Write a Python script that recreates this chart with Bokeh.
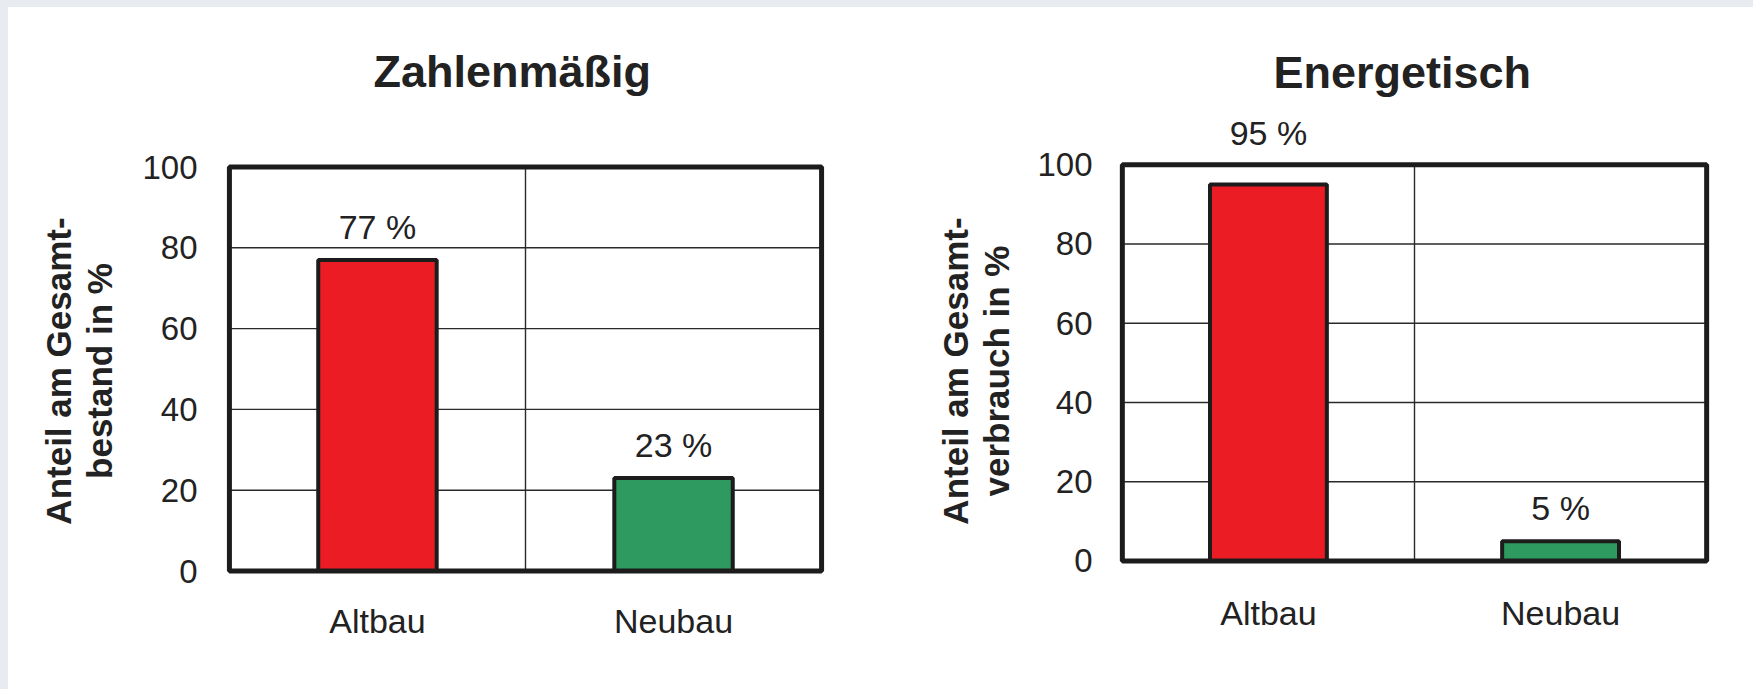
from bokeh.plotting import figure
from bokeh.models import ColumnDataSource, Range1d, FixedTicker, LabelSet, Div
from bokeh.core.properties import value
from bokeh.layouts import row, column
from bokeh.embed import file_html
from bokeh.resources import INLINE

# Data
categories = ["Altbau", "Neubau"]
anteil_bestand = [77, 23]      # share of building stock, %
anteil_verbrauch = [95, 5]     # share of energy consumption, %
y_ticks = [0, 20, 40, 60, 80, 100]
titles = ["Zahlenmäßig", "Energetisch"]
y_labels = ["Anteil am Gesamt-\nbestand in %", "Anteil am Gesamt-\nverbrauch in %"]
bar_colors = ["#ec1c24", "#2e9a5f"]

FONT = "Liberation Sans"
INK = "#1c1c1c"
TEXT = "#222222"
PAGE_BG = "#e8ebef"
X_PAD = 0.02          # room left/right of the framed box for its thick border
BORDER_TOP = 109      # both figures share these so their frames line up
BORDER_BOTTOM = 64


def panel(title, ylabel, values, width, height, side_borders, y_pad, title_offset,
          title_standoff, tick_standoff, xlabel_standoff, ylabel_standoff):
    left, right = side_borders
    pad_low, pad_high = y_pad
    n = len(categories)
    y_max = y_ticks[-1]
    xs = [i + 0.5 for i in range(n)]
    p = figure(width=width, height=height,
               x_range=Range1d(-X_PAD, n + X_PAD),
               y_range=Range1d(-pad_low, y_max + pad_high),
               output_backend="svg", toolbar_location=None, tools="",
               min_border_left=left, min_border_right=right,
               min_border_top=BORDER_TOP, min_border_bottom=BORDER_BOTTOM)
    p.background_fill_color = "white"
    p.border_fill_color = "white"
    p.outline_line_color = None
    p.grid.visible = False

    # heading
    p.title.text = title
    p.title.align = "left"
    p.title.text_font = FONT
    p.title.text_font_size = "45px"
    p.title.text_font_style = "bold"
    p.title.text_color = TEXT
    p.title.offset = title_offset
    p.title.standoff = title_standoff

    # inner grid: horizontal lines at the inner ticks, vertical line between categories
    inner = y_ticks[1:-1]
    p.segment(x0=[0] * len(inner), x1=[n] * len(inner), y0=inner, y1=inner,
              line_color="#2a2a2a", line_width=1.4)
    seps = list(range(1, n))
    p.segment(x0=seps, x1=seps, y0=[0] * len(seps), y1=[y_max] * len(seps),
              line_color="#2a2a2a", line_width=1.4)

    # bars
    src = ColumnDataSource(dict(
        x=xs, value=values, color=bar_colors,
        label=[f"{v} %" for v in values],
        # labels of bars reaching the top are lifted above the frame line
        lift=[40 if v > 90 else 21 for v in values],
    ))
    p.vbar(x="x", top="value", bottom=0, width=0.4, source=src,
           fill_color="color", line_color=INK, line_width=4)

    # thick box around the value area
    p.quad(left=[0], right=[n], bottom=[0], top=[y_max],
           fill_color=None, line_color=INK, line_width=5)

    labels = LabelSet(x="x", y="value", text="label", source=src,
                      y_offset="lift", text_align="center",
                      text_baseline="alphabetic", text_font=value(FONT),
                      text_font_size="34px", text_color=TEXT)
    p.add_layout(labels)

    # axes
    p.xaxis.ticker = FixedTicker(ticks=xs)
    p.xaxis.major_label_overrides = {x: c for x, c in zip(xs, categories)}
    p.yaxis.ticker = FixedTicker(ticks=y_ticks)
    for ax in (p.xaxis, p.yaxis):
        ax.axis_line_color = None
        ax.major_tick_line_color = None
        ax.minor_tick_line_color = None
        ax.major_tick_out = 0
        ax.major_tick_in = 0
        ax.major_label_text_font = FONT
        ax.major_label_text_color = TEXT
    p.xaxis.major_label_text_font_size = "34px"
    p.xaxis.major_label_standoff = xlabel_standoff
    p.yaxis.major_label_text_font_size = "33px"
    p.yaxis.major_label_standoff = tick_standoff

    p.yaxis.axis_label = ylabel
    p.yaxis.axis_label_text_font = FONT
    p.yaxis.axis_label_text_font_size = "35px"
    p.yaxis.axis_label_text_font_style = "bold"
    p.yaxis.axis_label_text_color = TEXT
    p.yaxis.axis_label_text_line_height = 1.05
    p.yaxis.axis_label_standoff = ylabel_standoff
    return p


p1 = panel(titles[0], y_labels[0], anteil_bestand, 872, 682,
           (215, 53), (13.49, 12.5), 150, 40, 26, -24, 20)
p2 = panel(titles[1], y_labels[1], anteil_verbrauch, 873, 682,
           (236, 41), (16.28, 12.16), 157, 38, 24, -32, 18)

top_band = Div(text="", width=1753, height=7, margin=0,
               styles={"background-color": PAGE_BG})
left_band = Div(text="", width=8, height=682, margin=0,
                styles={"background-color": PAGE_BG})

layout = column(top_band, row(left_band, p1, p2, spacing=0), spacing=0)

open("out.html", "w").write(file_html(layout, INLINE))
